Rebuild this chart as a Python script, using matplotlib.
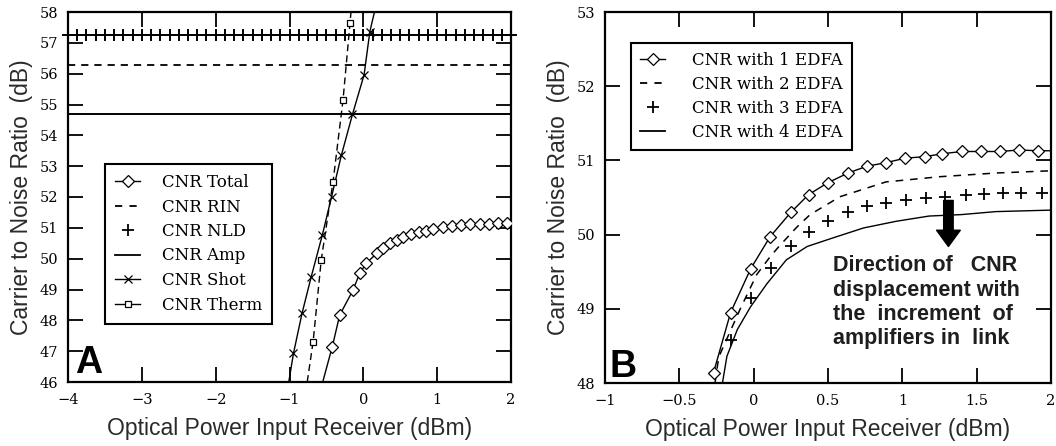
import matplotlib
matplotlib.use("Agg")
import matplotlib.pyplot as plt
from matplotlib.lines import Line2D

# ---------------- Panel A data ----------------
total_x = [-0.55, -0.42, -0.32, -0.14, -0.05, 0.04, 0.18, 0.27, 0.36, 0.45, 0.54, 0.65, 0.75, 0.85, 0.95, 1.08, 1.2, 1.32, 1.45, 1.58, 1.7, 1.82, 1.94]
total_y = [46.0, 47.15, 48.17, 48.98, 49.52, 49.85, 50.17, 50.35, 50.50, 50.62, 50.71, 50.79, 50.86, 50.91, 50.95, 51.02, 51.06, 51.09, 51.12, 51.13, 51.14, 51.15, 51.15]

rin_level = 56.27
amp_level = 54.68
nld_level = 57.25
nld_x = [-4.0, -3.875, -3.75, -3.625, -3.5, -3.375, -3.25, -3.125, -3.0, -2.875, -2.75,
         -2.625, -2.5, -2.375, -2.25, -2.125, -2.0, -1.875, -1.75, -1.625, -1.5, -1.375,
         -1.25, -1.125, -1.0, -0.875, -0.75, -0.625, -0.5, -0.375, -0.25, -0.125, 0.0,
         0.125, 0.25, 0.375, 0.5, 0.625, 0.75, 0.875, 1.0, 1.125, 1.25, 1.375, 1.5,
         1.625, 1.75, 1.875, 2.0]

shot_x = [-1.01, -0.946, -0.83, -0.705, -0.555, -0.43, -0.297, -0.147, 0.01, 0.088, 0.17]
shot_y = [46.0, 46.93, 48.23, 49.42, 50.77, 52.01, 53.36, 54.68, 55.96, 57.36, 58.2]

therm_x = [-0.76, -0.68, -0.57, -0.41, -0.275, -0.18, -0.16]
therm_y = [46.0, 47.31, 49.96, 52.5, 55.15, 57.65, 58.2]

# ---------------- Panel B data ----------------
e1_x = [-0.27, -0.155, -0.02, 0.11, 0.25, 0.37, 0.50, 0.635, 0.76, 0.89, 1.02, 1.15, 1.27, 1.40, 1.53, 1.655, 1.785, 1.915, 2.0]
e1_y = [48.14, 48.95, 49.54, 49.97, 50.30, 50.54, 50.70, 50.83, 50.92, 50.97, 51.03, 51.05, 51.09, 51.12, 51.12, 51.12, 51.14, 51.13, 51.13]

e2_x = [-0.26, -0.235, -0.09, 0.02, 0.11, 0.17, 0.29, 0.38, 0.58, 0.89, 1.25, 1.63, 2.0]
e2_y = [48.0, 48.35, 49.0, 49.46, 49.70, 49.84, 50.10, 50.27, 50.51, 50.71, 50.78, 50.83, 50.86]

e3_x = [-0.155, -0.02, 0.115, 0.25, 0.37, 0.50, 0.635, 0.76, 0.89, 1.025, 1.16, 1.29, 1.43, 1.55, 1.68, 1.80, 1.94]
e3_y = [48.58, 49.14, 49.55, 49.84, 50.03, 50.18, 50.30, 50.38, 50.43, 50.47, 50.49, 50.51, 50.54, 50.55, 50.56, 50.56, 50.56]

e4_x = [-0.21, -0.18, -0.11, -0.02, 0.09, 0.22, 0.36, 0.54, 0.74, 0.96, 1.18, 1.40, 1.63, 2.0]
e4_y = [48.0, 48.36, 48.72, 49.03, 49.34, 49.66, 49.84, 49.96, 50.09, 50.18, 50.25, 50.27, 50.31, 50.33]

a_labels = ["CNR Total", "CNR RIN", "CNR NLD", "CNR Amp", "CNR Shot", "CNR Therm"]
b_labels = ["CNR with 1 EDFA", "CNR with 2 EDFA", "CNR with 3 EDFA", "CNR with 4 EDFA"]
annot_text = "Direction of   CNR\ndisplacement with\nthe  increment  of\namplifiers in  link"

xlabel = "Optical Power Input Receiver (dBm)"
ylabel = "Carrier to Noise Ratio  (dB)"

# ---------------- Figure ----------------
W, H = 1056, 446
fig = plt.figure(figsize=(W / 100, H / 100), dpi=100)
fig.patch.set_facecolor("white")

axA = fig.add_axes([68 / W, 64 / H, 443 / W, 370 / H])
axB = fig.add_axes([605 / W, 63 / H, 446 / W, 371 / H])

label_font = {"family": "Liberation Sans", "size": 16.5, "color": "#2a2a2a"}
leg_font = {"family": "DejaVu Serif", "size": 12}

def style_axes(ax):
    for s in ax.spines.values():
        s.set_linewidth(1.6)
        s.set_color("black")
    ax.tick_params(direction="in", length=11, width=1.3, top=True, right=True,
                   labelsize=10.5, colors="black")
    ax.tick_params(axis="x", pad=8)
    ax.tick_params(axis="y", pad=7)
    for lab in ax.get_xticklabels() + ax.get_yticklabels():
        lab.set_fontfamily("DejaVu Serif")
    ax.set_xlabel(xlabel, fontdict=label_font)
    ax.set_ylabel(ylabel, fontdict=label_font)

lw = 1.0
mk = dict(markerfacecolor="white", markeredgecolor="black", markeredgewidth=0.9)

# ---- Panel A ----
axA.set_xlim(-4, 2)
axA.set_ylim(46, 58)
axA.set_xticks([-4, -3, -2, -1, 0, 1, 2])
axA.set_yticks(range(46, 59))

axA.plot(total_x, total_y, color="black", lw=lw, marker="D", markersize=6,
         markevery=slice(1, None), **mk, zorder=3)
axA.axhline(rin_level, color="black", lw=1.3, linestyle=(0, (4, 3.3)))
axA.axhline(amp_level, color="black", lw=1.4)
axA.plot(nld_x, [nld_level] * len(nld_x), linestyle="none", marker="+", markersize=9,
         markeredgewidth=1.4, color="black", clip_on=False, zorder=3)
axA.plot(shot_x, shot_y, color="black", lw=lw, marker="x", markersize=6,
         markeredgewidth=0.9, markevery=slice(1, -1), zorder=3)
axA.plot(therm_x, therm_y, color="black", lw=lw, linestyle=(0, (5, 3)), marker="s",
         markersize=5, markevery=slice(1, -1), **mk, zorder=3)

handlesA = [
    Line2D([], [], color="black", lw=lw, marker="D", markersize=6, **mk),
    Line2D([], [], color="black", lw=1.3, linestyle=(0, (4, 4))),
    Line2D([], [], color="black", linestyle="none", marker="+", markersize=8, markeredgewidth=1.3),
    Line2D([], [], color="black", lw=1.3),
    Line2D([], [], color="black", lw=lw, marker="x", markersize=6, markeredgewidth=0.9),
    Line2D([], [], color="black", lw=lw, marker="s", markersize=5, **mk),
]
legA = axA.legend(handlesA, a_labels, loc="upper left",
                  bbox_to_anchor=(105 / W, 1 - 164 / H), bbox_transform=fig.transFigure,
                  borderaxespad=0, prop=leg_font, frameon=True, fancybox=False,
                  edgecolor="black", framealpha=1, handlelength=1.5, handletextpad=1.3,
                  labelspacing=0.45, borderpad=0.6)
legA.get_frame().set_linewidth(1.5)

axA.text(0.016, 0.024, "A", transform=axA.transAxes, fontsize=27, fontweight="bold",
         family="Liberation Sans", ha="left", va="baseline", color="black")

# ---- Panel B ----
axB.set_xlim(-1, 2)
axB.set_ylim(48, 53)
axB.set_xticks([-1, -0.5, 0, 0.5, 1, 1.5, 2])
axB.set_xticklabels(["\u22121", "\u22120.5", "0", "0.5", "1", "1.5", "2"])
axB.set_yticks([48, 49, 50, 51, 52, 53])

axB.plot(e1_x, e1_y, color="black", lw=lw, marker="D", markersize=6.5,
         markevery=slice(0, -1), **mk, zorder=3)
axB.plot(e2_x, e2_y, color="black", lw=1.1, linestyle=(0, (5, 4.5)))
axB.plot(e3_x, e3_y, color="black", linestyle="none", marker="+", markersize=8,
         markeredgewidth=1.3)
axB.plot(e4_x, e4_y, color="black", lw=lw)

handlesB = [
    Line2D([], [], color="black", lw=lw, marker="D", markersize=6.5, **mk),
    Line2D([], [], color="black", lw=1.3, linestyle=(0, (4, 4))),
    Line2D([], [], color="black", linestyle="none", marker="+", markersize=8, markeredgewidth=1.3),
    Line2D([], [], color="black", lw=1.3),
]
legB = axB.legend(handlesB, b_labels, loc="upper left",
                  bbox_to_anchor=(631 / W, 1 - 43 / H), bbox_transform=fig.transFigure,
                  borderaxespad=0, prop=leg_font, frameon=True, fancybox=False,
                  edgecolor="black", framealpha=1, handlelength=1.5, handletextpad=1.6,
                  labelspacing=0.42, borderpad=0.55)
legB.get_frame().set_linewidth(1.5)

axB.annotate("", xy=(1.31, 49.84), xytext=(1.31, 50.46),
             arrowprops=dict(arrowstyle="simple,head_length=0.65,head_width=0.95,tail_width=0.38",
                             color="black", mutation_scale=18, shrinkA=0, shrinkB=0))
axB.text(0.533, 49.72, annot_text, fontsize=15.5, fontweight="bold", family="Liberation Sans",
         color="#1e1e1e", ha="left", va="top", linespacing=1.2)

axB.text(0.011, 0.016, "B", transform=axB.transAxes, fontsize=27, fontweight="bold",
         family="Liberation Sans", ha="left", va="baseline", color="black")

for ax in (axA, axB):
    style_axes(ax)

axA.xaxis.set_label_coords(0.5, -0.095)
axA.yaxis.set_label_coords(-0.08, 0.5)
axB.xaxis.set_label_coords(0.5, -0.095)
axB.yaxis.set_label_coords(-0.079, 0.5)

fig.savefig("out.png", dpi=100, facecolor="white")
